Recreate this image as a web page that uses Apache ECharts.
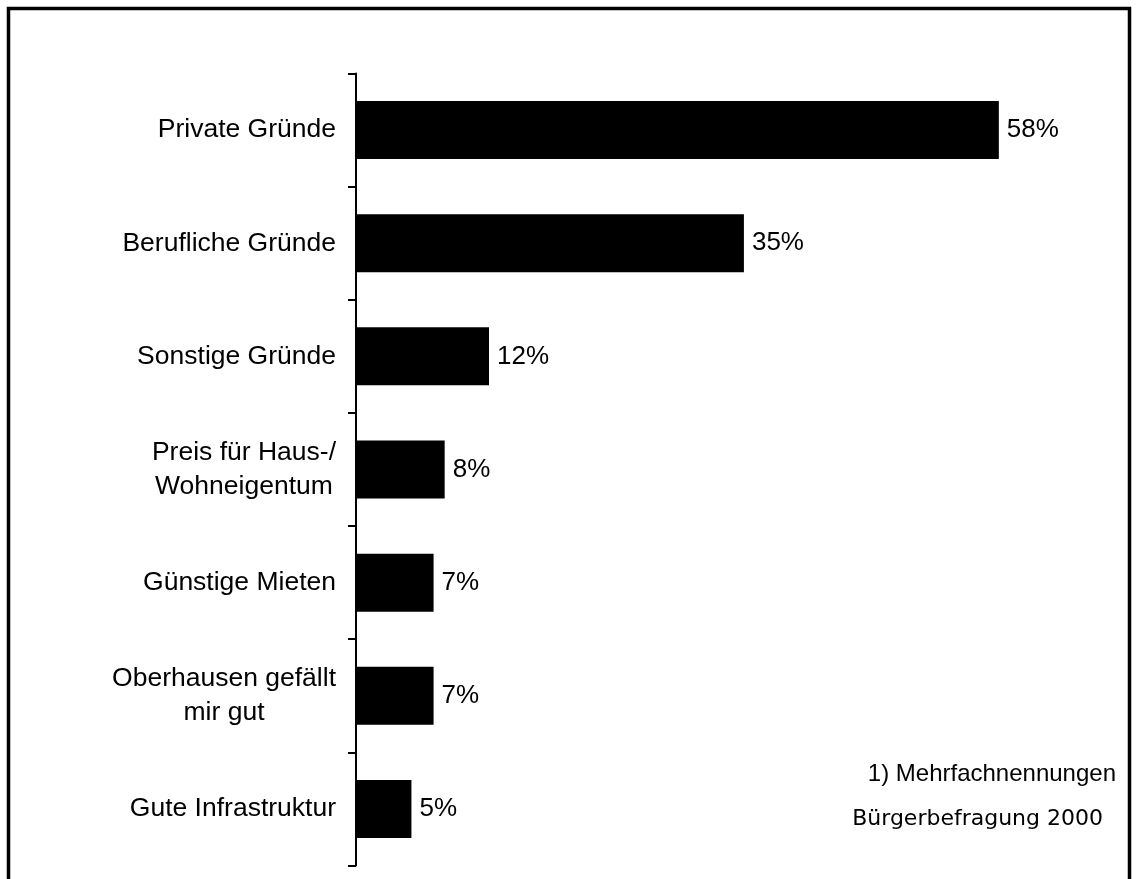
<!DOCTYPE html>
<html>
<head>
<meta charset="utf-8">
<script src="https://cdn.jsdelivr.net/npm/echarts@6/dist/echarts.min.js"></script>
<style>
  html, body { margin: 0; padding: 0; background: #fff; }
  #chart { width: 1138px; height: 879px; }
</style>
</head>
<body>
<div id="chart"></div>
<script>
// Gründe für den Zuzug (Mehrfachnennungen), Angaben in %
var categories = [
  'Private Gründe',
  'Berufliche Gründe',
  'Sonstige Gründe',
  'Preis für Haus-/\nWohneigentum',
  'Günstige Mieten',
  'Oberhausen gefällt\nmir gut',
  'Gute Infrastruktur'
];
var values = [58, 35, 12, 8, 7, 7, 5];
var footnote = '1) Mehrfachnennungen';
var source = 'Bürgerbefragung 2000';

var font = '"Liberation Sans", Arial, sans-serif';
var myChart = echarts.init(document.getElementById('chart'));

var option = {
  backgroundColor: '#fff',
  animation: false,
  grid: { left: 356, right: 117, top: 73.5, bottom: 13.5 },
  xAxis: {
    type: 'value',
    min: 0,
    max: 60,
    show: false
  },
  yAxis: {
    type: 'category',
    data: categories,
    inverse: true,
    axisLine: { lineStyle: { color: '#000', width: 2 } },
    axisTick: { show: true, inside: false, length: 8, lineStyle: { color: '#000', width: 2 } },
    axisLabel: {
      margin: 20,
      formatter: function (v) {
        return v.split('\n').map(function (l) { return '{c|' + l + '}'; }).join('\n');
      },
      rich: {
        c: { fontSize: 26.5, fontFamily: font, color: '#000', lineHeight: 34, align: 'center' }
      }
    }
  },
  series: [{
    type: 'bar',
    data: values,
    barWidth: 58,
    itemStyle: { color: '#000' },
    label: {
      show: true,
      position: 'right',
      distance: 8,
      formatter: '{c}%',
      fontSize: 26,
      fontFamily: font,
      color: '#000'
    }
  }],
  graphic: [
    {
      type: 'rect',
      shape: { x: 8.5, y: 8.5, width: 1121, height: 1000 },
      style: { fill: null, stroke: '#000', lineWidth: 3.5 },
      silent: true
    },
    {
      type: 'text',
      right: 22,
      top: 762,
      style: { text: footnote, fontSize: 24, fontFamily: font, fill: '#000' }
    },
    {
      type: 'text',
      right: 35,
      top: 808,
      style: { text: source, fontSize: 22, fontFamily: '"DejaVu Sans", sans-serif', fill: '#000' }
    }
  ]
};

myChart.setOption(option);
</script>
</body>
</html>
